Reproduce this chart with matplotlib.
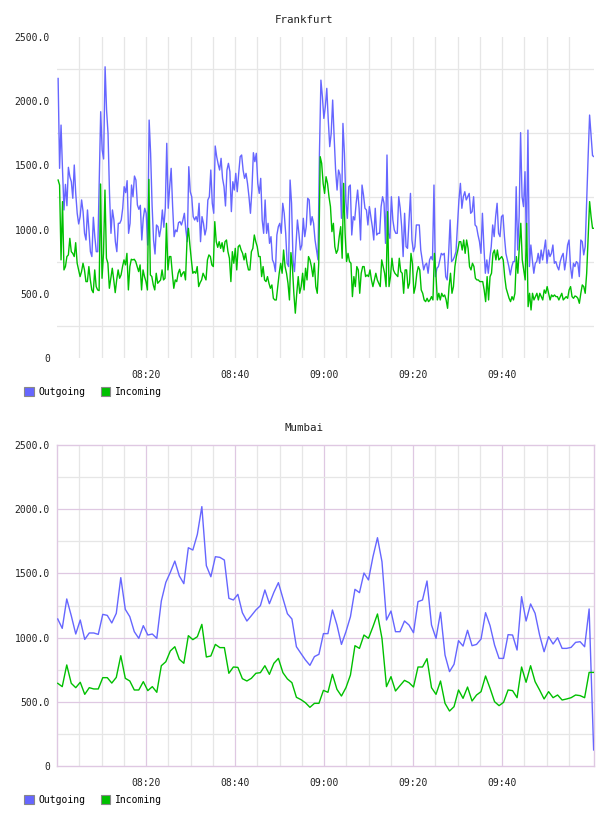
import matplotlib
matplotlib.use("Agg")
import matplotlib.pyplot as plt
from matplotlib.patches import Patch
import pandas as pd
import datetime as dt

# ---------------- data ----------------
titles = ["Frankfurt", "Mumbai"]
series_names = ["Outgoing", "Incoming"]
xtick_labels = ["08:20", "08:40", "09:00", "09:20", "09:40"]
ytick_values = [0, 500, 1000, 1500, 2000, 2500]
ytick_labels = ["0", "500.0", "1000.0", "1500.0", "2000.0", "2500.0"]

frankfurt_outgoing = [
    2177, 1477, 1814, 1464, 1153, 1352, 1186, 1485, 1412, 1373, 1244, 1503, 1282, 1127, 1044, 1101,
    1231, 1140, 971, 919, 1153, 997, 828, 790, 1096, 945, 828, 828, 1360, 1918, 1620, 1550, 2268,
    1931, 1749, 1282, 971, 1153, 1075, 906, 828, 1049, 1049, 1075, 1166, 1334, 1288, 1381, 971, 1049,
    1347, 1256, 1417, 1386, 1192, 1158, 1189, 919, 1088, 1166, 1127, 880, 1853, 1594, 1192, 919, 810,
    1036, 1023, 945, 1010, 1153, 1018, 1166, 1672, 1166, 1334, 1477, 1179, 945, 997, 984, 1054, 1062,
    1036, 1075, 1127, 997, 906, 1490, 1295, 1256, 1101, 1075, 1101, 1062, 1205, 906, 1101, 1049, 958,
    1010, 1231, 1256, 1464, 1205, 1127, 1651, 1568, 1511, 1464, 1555, 1399, 1334, 1184, 1464, 1516,
    1451, 1140,
    1373, 1308, 1438, 1295, 1438, 1568, 1581, 1464, 1399, 1438, 1360, 1256, 1127, 1308, 1599, 1529,
    1594, 1360, 1282, 1399, 1075, 971, 1231, 971, 1049, 893, 945, 764, 738, 673, 958, 1023, 1049, 971,
    1205, 1127, 971, 738, 712, 1386, 1205, 764, 673, 867, 1075, 971, 841, 880, 1088, 945, 1023, 1244,
    1231, 1036, 1101, 1049, 919, 841, 764, 1594, 2164, 2035, 1866, 1957, 2100, 1853, 1646, 1749, 2009,
    1723, 1464, 1308, 1464, 1425, 1088, 1827, 1594, 1218, 1088, 1334, 1347, 958, 1101, 1075, 1205,
    1308, 1166, 919, 1347, 1269, 1166, 1153, 1036, 1179, 1101, 1023, 919, 1166, 958, 971, 971, 1179,
    1256, 1205, 893, 1581, 971, 932, 1256, 1075, 997, 971, 971, 1256, 1166, 1023, 790, 1127,
    867, 854, 1075, 1282, 919, 828, 867, 1036, 1036, 1036, 841, 764, 686, 725, 738, 660, 764, 790, 764,
    1347, 634, 699, 712, 764, 815, 803, 815, 634, 608, 815, 1075, 751, 764, 790, 828, 1036, 1231, 1360,
    1166, 1256, 1295, 1231, 1256, 1282, 1127, 1140, 1256, 1036, 1023, 958, 906, 815, 1127, 867, 660,
    764, 660, 777, 867, 1036, 945, 1101, 1205, 971, 945, 1101, 1114, 945, 815, 764, 712, 647, 712, 751,
    751, 1334, 841, 1101, 1755, 1256, 1179, 1451, 867, 1775, 712, 880, 764, 660, 738, 751, 815, 738,
    841, 764, 841, 919, 738, 841, 790, 815, 880, 738, 751, 712, 686, 751, 790, 815, 686, 764, 880, 919,
    712, 621, 738, 712, 751, 738, 634, 919, 906, 803, 867, 1231, 1568, 1892, 1736, 1576, 1568,
]

frankfurt_incoming = [
    1386, 1347, 764, 1218, 686, 712, 790, 803, 932, 828, 815, 790, 898, 738, 686, 634, 673, 738, 686,
    595, 595, 712, 608, 530, 509, 686, 556, 530, 525, 1355, 621, 815, 1308, 777, 738, 543, 621, 699,
    608, 509, 608, 686, 621, 647, 712, 764, 725, 815, 530, 712, 769, 764, 769, 751, 712, 673, 725, 530,
    686, 634, 595, 530, 1391, 647, 634, 569, 530, 660, 582, 595, 608, 686, 608, 621, 1049, 686, 790,
    790, 660, 543, 608, 595, 660, 691, 634, 660, 673, 608, 906, 1010, 880, 764, 660, 673, 660, 712,
    556, 587, 608, 660, 634, 608, 764, 803, 790, 725, 712, 1062, 906, 862, 906, 854, 898, 828, 906,
    919, 828, 777, 595,
    828, 738, 854, 686, 867, 880, 841, 815, 764, 815, 738, 686, 686, 828, 854, 958, 906, 867, 790, 790,
    634, 712, 608, 595, 634, 582, 543, 569, 465, 452, 452, 556, 660, 738, 660, 841, 712, 660, 582, 452,
    821, 712, 504, 349, 504, 634, 504, 556, 660, 530, 699, 608, 790, 764, 712, 634, 738, 556, 504, 738,
    1568, 1516, 1360, 1282, 1412, 1360, 1256, 1179, 984, 1049, 867, 815, 841, 945, 1023, 777, 1360,
    971, 751, 815, 751, 738, 478, 634, 556, 712, 686, 504, 660, 712, 712, 634, 647, 634, 686, 608, 556,
    608, 660, 608, 582, 556, 764, 712, 660, 556, 1140, 556, 634, 777, 686, 660, 647, 634, 777, 673,
    660, 504, 686,
    686, 543, 582, 815, 738, 504, 556, 660, 712, 686, 530, 504, 452, 439, 465, 439, 452, 478, 452, 815,
    660, 452, 504, 452, 504, 478, 491, 452, 387, 556, 660, 504, 556, 712, 790, 841, 906, 906, 841, 919,
    815, 919, 854, 712, 686, 738, 712, 621, 608, 608, 595, 595, 595, 530, 439, 634, 452, 634, 660, 815,
    841, 764, 841, 764, 777, 790, 764, 634, 543, 504, 465, 439, 478, 452, 504, 790, 660, 867, 1049,
    764, 686, 608, 1049, 400, 504, 374, 504, 452, 478, 504, 452, 504, 478, 452, 530, 504, 556, 504,
    452, 491, 478, 491, 478, 478, 452, 478, 504, 452, 465, 478, 465, 530, 556, 478, 465, 483, 478, 465,
    426, 504, 569, 556, 504, 660, 945, 1218, 1101, 1010, 1010,
]

mumbai_outgoing = [
    1145, 1072, 1301, 1171, 1028, 1137, 986, 1036, 1036, 1025,
    1181, 1173, 1114, 1189, 1467, 1220, 1163, 1046, 994, 1093,
    1020, 1028, 994, 1285, 1430, 1508, 1596, 1480, 1420, 1700,
    1682, 1804, 2020, 1560, 1474, 1630, 1625, 1604, 1306, 1293,
    1337, 1194, 1129, 1171, 1215, 1249, 1371, 1264, 1353, 1428,
    1306, 1186, 1145, 929, 877, 826, 784, 852, 870, 1031,
    1031, 1215, 1098, 947, 1046, 1163, 1376, 1350, 1503, 1449,
    1630, 1778, 1591, 1137, 1207, 1046, 1046, 1129, 1098, 1038,
    1280, 1293, 1441, 1098, 994, 1197, 864, 735, 792, 976,
    934, 1057, 937, 947, 989, 1194, 1093, 942, 838, 838,
    1023, 1020, 903, 1319, 1129, 1262, 1189, 1020, 890, 1007,
    950, 999, 916, 916, 924, 963, 968, 929, 1223, 125,
]

mumbai_incoming = [
    644, 618, 787, 644, 610, 652, 558, 610, 600, 600,
    688, 688, 646, 690, 859, 683, 662, 592, 592, 657,
    587, 618, 574, 781, 812, 896, 929, 831, 800, 1015,
    984, 1007, 1103, 849, 857, 947, 922, 922, 722, 771,
    768, 680, 662, 683, 722, 727, 781, 714, 800, 838,
    727, 678, 649, 535, 517, 493, 457, 488, 488, 589,
    574, 714, 597, 545, 610, 709, 937, 916, 1020, 994,
    1085, 1184, 994, 618, 696, 584, 626, 667, 649, 615,
    771, 771, 836, 610, 558, 662, 488, 428, 462, 592,
    527, 615, 506, 553, 579, 701, 605, 501, 470, 496,
    592, 587, 532, 771, 652, 781, 657, 592, 522, 579,
    532, 553, 514, 522, 532, 553, 548, 532, 729, 729,
]

# ---------------- styling ----------------
BLUE = "#6666ff"
GREEN = "#00c000"
GRID = "#e6e6e6"
PINK = "#dfc8e2"
TEXT = "#222222"
FONT = ["DejaVu Sans Mono"]

plt.rcParams["font.family"] = FONT

day = dt.date(2020, 1, 1)
def at(h, m, s=0):
    return dt.datetime.combine(day, dt.time(h, m, s))

x_start = at(8, 0)
x_end = at(10, 0, 40)

def times(n, start, end):
    return pd.date_range(start, end, periods=n)

fig = plt.figure(figsize=(6.08, 8.16), dpi=100)
W, H = 608, 816

def make_axes(top_px):
    left, right, bottom = 57, 594, top_px + 321
    return fig.add_axes([left / W, 1 - bottom / H, (right - left) / W, 321 / H])

ax1 = make_axes(37)
ax2 = make_axes(445)

data = [
    (ax1, frankfurt_outgoing, frankfurt_incoming, times(len(frankfurt_outgoing), at(8, 0, 15), at(10, 0, 40)),
     times(len(frankfurt_incoming), at(8, 0, 15), at(10, 0, 40))),
    (ax2, mumbai_outgoing, mumbai_incoming, times(len(mumbai_outgoing), at(8, 0, 10), at(10, 0, 35)),
     times(len(mumbai_incoming), at(8, 0, 10), at(10, 0, 35))),
]

five_min = pd.date_range(at(8, 5), at(9, 55), freq="5min")
tick_times = [at(8, 20), at(8, 40), at(9, 0), at(9, 20), at(9, 40)]

for i, (ax, out, inc, t_out, t_in) in enumerate(data):
    ax.set_xlim(x_start, x_end)
    ax.set_ylim(0, 2500)
    if i == 0:
        for t in five_min:
            ax.axvline(t, color=GRID, lw=0.9, zorder=0)
        for v in [250, 750, 1250, 1750, 2250]:
            ax.axhline(v, color=GRID, lw=0.9, zorder=0)
        for s in ax.spines.values():
            s.set_visible(False)
    else:
        for t in five_min:
            major = t.minute % 20 == 0
            ax.axvline(t, color=PINK if major else GRID, lw=0.9, zorder=0)
        for v in range(250, 2500, 250):
            ax.axhline(v, color=PINK if v % 500 == 0 else GRID, lw=0.9, zorder=0)
        for s in ax.spines.values():
            s.set_color(PINK)
            s.set_linewidth(1.0)
    ax.plot(t_out, out, color=BLUE, lw=1.0, zorder=3)
    ax.plot(t_in, inc, color=GREEN, lw=1.0, zorder=3)

    ax.set_xticks(tick_times)
    ax.set_xticklabels(xtick_labels)
    ax.set_yticks(ytick_values)
    ax.set_yticklabels(ytick_labels)
    ax.tick_params(axis="x", length=0, pad=9, labelsize=7, labelcolor=TEXT)
    ax.tick_params(axis="y", length=0, pad=5, labelsize=7, labelcolor=TEXT)

    top_px = 37 if i == 0 else 445
    fig.text(0.5, 1 - (top_px - 17) / H, titles[i], ha="center", va="center",
             fontsize=7.8, color=TEXT)

    handles = [Patch(facecolor=BLUE, edgecolor="#888888", lw=0.8, label=series_names[0]),
               Patch(facecolor=GREEN, edgecolor="#888888", lw=0.8, label=series_names[1])]
    fig.legend(handles=handles, loc="center left",
               bbox_to_anchor=(24 / W, 1 - (top_px + 321 + 34) / H),
               ncol=2, frameon=False, fontsize=7, handlelength=1.0, handleheight=1.0,
               handletextpad=0.45, columnspacing=1.6, borderaxespad=0, borderpad=0)

fig.savefig("out.png", dpi=100)
